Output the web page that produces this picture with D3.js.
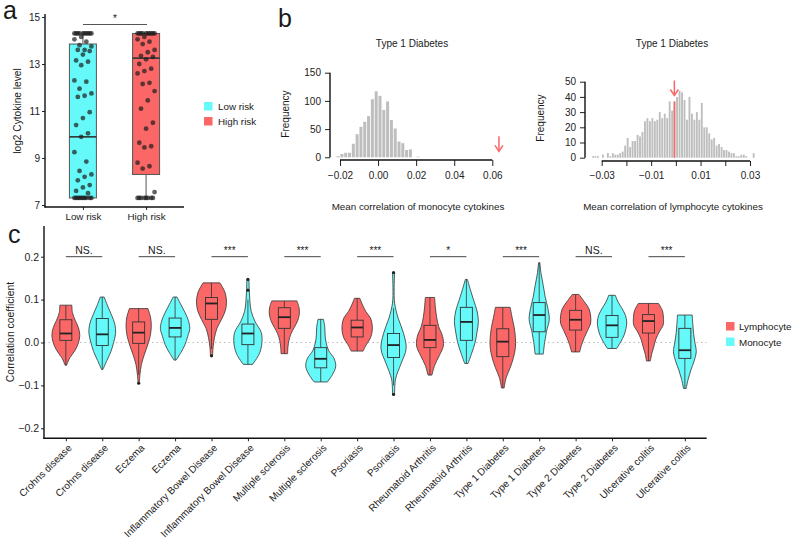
<!DOCTYPE html>
<html>
<head>
<meta charset="utf-8">
<script src="https://cdn.jsdelivr.net/npm/d3@7"></script>
<style>
  body { margin: 0; background: #fff; }
  text { font-family: "Liberation Sans", Arial, sans-serif; fill: #1a1a1a; }
</style>
</head>
<body>
<script>
// ---- panel a data ----
const riskGroups = ['Low risk', 'High risk'];
const lowRiskPoints = [14.3, 14.3, 14.3, 14.3, 14.3, 14.3, 14.3, 14.3, 14.3, 14.3,
  14.15, 14.05, 13.95, 13.8, 13.75, 13.6, 13.6, 13.55, 13.4, 13.15, 13.1, 12.95,
  12.3, 12.25, 11.95, 11.75, 11.65, 11.6, 10.95, 10.7, 10.4, 10.05, 9.9, 9.25,
  8.85, 8.45, 8.3, 8.2, 8.05, 7.85, 7.75, 7.6, 7.5,
  7.3, 7.3, 7.3, 7.3, 7.3, 7.3, 7.3, 7.3, 7.3, 7.3];
const highRiskPoints = [14.3, 14.3, 14.3, 14.3, 14.3, 14.3, 14.3, 14.3, 14.3, 14.3,
  14.15, 14.05, 13.95, 13.85, 13.6, 13.5, 13.35, 13.3, 13.2, 13.0, 12.8, 12.7,
  12.6, 12.2, 12.15, 11.85, 11.45, 11.1, 10.5, 10.25, 9.65, 9.5, 9.45, 8.8,
  8.65, 8.55, 7.55, 7.3, 7.3, 7.3, 7.3, 7.3, 7.3, 7.3, 7.3];
const riskMin = [7.3, 7.3];
const riskQ1 = [7.3, 8.3];
const riskMedian = [9.9, 13.25];
const riskQ3 = [13.85, 14.3];
const riskMax = [14.3, 14.3];

// ---- panel b data ----
const monoStart = -0.022, monoBin = 0.002;
const monoCounts = [2, 6, 8, 8, 24, 41, 54, 63, 73, 103, 117, 109, 84, 99, 66, 51, 28, 25, 13, 14, 0, 1];
const monoObserved = 0.0635;
const lymphStart = -0.034, lymphBin = 0.001;
const lymphCounts = [1, 1, 1, 0, 2, 0, 3, 1, 3, 2, 2, 3, 4, 8, 13, 7, 11, 11, 15, 14,
  17, 24, 26, 24, 26, 24, 25, 30, 26, 29, 26, 37, 31, 37, 40, 44, 43, 38, 25, 40,
  29, 25, 30, 25, 36, 20, 20, 16, 12, 13, 8, 9, 7, 5, 5, 4, 3, 3, 1, 1,
  2, 2, 1, 0, 0, 3];
const lymphObserved = -0.0006;
const lymphObservedCount = 37;

// ---- panel c data ----
const violinLabels = ['Crohns disease', 'Crohns disease', 'Eczema', 'Eczema',
  'Inflammatory Bowel Disease', 'Inflammatory Bowel Disease', 'Multiple sclerosis', 'Multiple sclerosis',
  'Psoriasis', 'Psoriasis', 'Rheumatoid Arthritis', 'Rheumatoid Arthritis',
  'Type 1 Diabetes', 'Type 1 Diabetes', 'Type 2 Diabetes', 'Type 2 Diabetes',
  'Ulcerative colitis', 'Ulcerative colitis'];
const cellTypes = ['Lymphocyte', 'Monocyte'];
const violinMin = [-0.053, -0.063, -0.095, -0.041, -0.031, -0.051, -0.026, -0.092, -0.020,
  -0.121, -0.076, -0.049, -0.106, -0.027, -0.022, -0.014, -0.043, -0.107];
const violinMax = [0.087, 0.106, 0.079, 0.106, 0.139, 0.147, 0.097, 0.054, 0.103,
  0.163, 0.105, 0.147, 0.082, 0.186, 0.112, 0.110, 0.091, 0.064];
const violinQ1 = [0.005, -0.007, -0.002, 0.013, 0.054, -0.005, 0.033, -0.059, 0.013,
  -0.035, -0.012, 0.005, -0.033, 0.025, 0.029, 0.012, 0.022, -0.037];
const violinMedian = [0.021, 0.019, 0.023, 0.034, 0.091, 0.021, 0.059, -0.038, 0.035,
  -0.006, 0.006, 0.048, 0.002, 0.064, 0.053, 0.040, 0.050, -0.018];
const violinQ3 = [0.053, 0.056, 0.048, 0.057, 0.105, 0.043, 0.081, -0.012, 0.052,
  0.021, 0.040, 0.082, 0.032, 0.093, 0.075, 0.063, 0.065, 0.033];
const whiskerLow = [-0.053, -0.063, -0.075, -0.041, -0.015, -0.051, -0.026, -0.092, -0.020,
  -0.100, -0.076, -0.049, -0.106, -0.027, -0.022, -0.014, -0.043, -0.107];
const whiskerHigh = [0.087, 0.106, 0.079, 0.106, 0.139, 0.100, 0.097, 0.054, 0.103,
  0.080, 0.105, 0.147, 0.082, 0.186, 0.112, 0.110, 0.091, 0.064];
const violinOutliers = [[], [], [-0.095], [], [-0.031], [0.147, 0.122], [], [], [],
  [0.163, -0.121], [], [], [], [], [], [], [], []];
// relative density, 9 levels from violin min (first) to violin max (last)
const violinDensity = [
  [0.05, 0.27, 0.62, 0.84, 0.93, 0.84, 0.62, 0.44, 0.40],
  [0.04, 0.31, 0.58, 0.76, 0.89, 0.84, 0.62, 0.36, 0.13],
  [0.04, 0.09, 0.18, 0.36, 0.58, 0.76, 0.84, 0.80, 0.62],
  [0.07, 0.40, 0.67, 0.84, 0.98, 0.89, 0.67, 0.40, 0.13],
  [0.07, 0.11, 0.20, 0.36, 0.67, 0.93, 1.00, 0.89, 0.56],
  [0.31, 0.76, 0.93, 0.89, 0.49, 0.22, 0.13, 0.09, 0.07],
  [0.22, 0.24, 0.31, 0.44, 0.67, 0.89, 1.00, 0.98, 0.84],
  [0.44, 0.80, 1.00, 0.89, 0.53, 0.36, 0.29, 0.27, 0.18],
  [0.40, 0.62, 0.89, 1.00, 1.00, 0.89, 0.58, 0.36, 0.18],
  [0.07, 0.13, 0.49, 0.84, 0.67, 0.31, 0.07, 0.04, 0.07],
  [0.13, 0.31, 0.62, 0.89, 0.84, 0.58, 0.44, 0.36, 0.31],
  [0.11, 0.36, 0.58, 0.71, 0.80, 0.71, 0.49, 0.27, 0.07],
  [0.09, 0.22, 0.49, 0.71, 0.84, 0.84, 0.76, 0.62, 0.49],
  [0.27, 0.36, 0.49, 0.67, 0.58, 0.40, 0.27, 0.13, 0.04],
  [0.27, 0.40, 0.58, 0.80, 1.00, 1.00, 0.89, 0.58, 0.22],
  [0.31, 0.58, 0.80, 0.93, 0.98, 0.89, 0.67, 0.40, 0.22],
  [0.13, 0.22, 0.36, 0.49, 0.71, 0.98, 1.00, 0.93, 0.67],
  [0.09, 0.22, 0.40, 0.62, 0.76, 0.67, 0.58, 0.53, 0.49]
];
const sigLabels = ['NS.', 'NS.', '***', '***', '***', '*', '***', 'NS.', '***'];

const red = '#fb6767';
const cyan = '#66f9f9';
const outline = '#333';

const svg = d3.select(document.body).append('svg')
  .attr('width', 800)
  .attr('height', 543);

function styleAxis(g, size) {
  g.attr('font-size', size);
  g.selectAll('.domain').remove();
  g.selectAll('line').attr('stroke', '#222');
  g.selectAll('text').style('fill', '#222');
}

function arrow(x, yTip) {
  svg.append('line')
    .attr('x1', x).attr('x2', x).attr('y1', yTip - 15).attr('y2', yTip)
    .attr('stroke', red).attr('stroke-width', 1.5);
  svg.append('path')
    .attr('d', `M${x - 4},${yTip - 6}L${x},${yTip}L${x + 4},${yTip - 6}`)
    .attr('fill', 'none').attr('stroke', red).attr('stroke-width', 1.5);
}

// panel letters
svg.append('text').attr('x', 3).attr('y', 19).attr('font-size', 25).text('a');
svg.append('text').attr('x', 278).attr('y', 27).attr('font-size', 25).text('b');
svg.append('text').attr('x', 8).attr('y', 243).attr('font-size', 25).text('c');

// ================= panel a =================
let xA = d3.scalePoint().domain(riskGroups).range([45, 184]).padding(0.6);
let yA = d3.scaleLinear().domain([7, 15]).range([205, 17]);

svg.append('g')
  .attr('transform', 'translate(45,0)')
  .call(d3.axisLeft(yA).tickValues([7, 9, 11, 13, 15]).tickSize(3).tickPadding(2))
  .call(g => styleAxis(g, 10));
svg.append('g')
  .attr('transform', 'translate(0,207)')
  .call(d3.axisBottom(xA).tickSize(3).tickPadding(3))
  .call(g => styleAxis(g, 9.8));
svg.append('line').attr('x1', 45).attr('x2', 45).attr('y1', 14).attr('y2', 207.5)
  .attr('stroke', '#111').attr('stroke-width', 1.4);
svg.append('line').attr('x1', 44.5).attr('x2', 184).attr('y1', 207).attr('y2', 207)
  .attr('stroke', '#111').attr('stroke-width', 1.4);

svg.append('text')
  .attr('transform', 'translate(21,111) rotate(-90)')
  .attr('text-anchor', 'middle').attr('font-size', 10.2)
  .text('log2 Cytokine level');

riskGroups.forEach((grp, i) => {
  let cx = xA(grp);
  let g = svg.append('g');
  g.append('line').attr('x1', cx).attr('x2', cx)
    .attr('y1', yA(riskMax[i])).attr('y2', yA(riskQ3[i]))
    .attr('stroke', '#555');
  g.append('line').attr('x1', cx).attr('x2', cx)
    .attr('y1', yA(riskQ1[i])).attr('y2', yA(riskMin[i]))
    .attr('stroke', '#555');
  g.append('rect')
    .attr('x', cx - 13.5).attr('width', 27)
    .attr('y', yA(riskQ3[i])).attr('height', yA(riskQ1[i]) - yA(riskQ3[i]))
    .attr('fill', i === 0 ? cyan : red)
    .attr('stroke', '#555').attr('stroke-width', 1);
  g.append('line').attr('x1', cx - 13.5).attr('x2', cx + 13.5)
    .attr('y1', yA(riskMedian[i])).attr('y2', yA(riskMedian[i]))
    .attr('stroke', '#333').attr('stroke-width', 1.6);

  let pts = i === 0 ? lowRiskPoints : highRiskPoints;
  g.selectAll('circle')
    .data(pts)
    .join('circle')
      .attr('cx', (d, j) => cx + (((j * 7) % 11) / 10 - 0.5) * 17)
      .attr('cy', d => yA(d))
      .attr('r', 2.4)
      .attr('fill', '#1e1e1e')
      .attr('fill-opacity', 0.7);
});

svg.append('line').attr('x1', 83).attr('x2', 147).attr('y1', 24.5).attr('y2', 24.5)
  .attr('stroke', '#555').attr('stroke-width', 1);
svg.append('text').attr('x', 115).attr('y', 22).attr('text-anchor', 'middle')
  .attr('font-size', 10).text('*');

// legend a
riskGroups.forEach((grp, i) => {
  svg.append('rect').attr('x', 204).attr('y', 102 + i * 15).attr('width', 8.5).attr('height', 8.5)
    .attr('fill', i === 0 ? cyan : red);
  svg.append('text').attr('x', 218).attr('y', 110 + i * 15).attr('font-size', 9.8).text(grp);
});

// ================= panel b (left) =================
let xL = d3.scaleLinear().domain([-0.02, 0.06]).range([340, 492.3]);
let yL = d3.scaleLinear().domain([0, 150]).range([157.3, 72.7]);

svg.append('g').selectAll('rect')
  .data(monoCounts)
  .join('rect')
    .attr('x', (d, i) => xL(monoStart + i * monoBin) + 0.4)
    .attr('width', xL(monoBin) - xL(0) - 0.8)
    .attr('y', d => yL(d))
    .attr('height', d => yL(0) - yL(d))
    .attr('fill', '#bebebe');

svg.append('g')
  .attr('transform', 'translate(0,160)')
  .call(d3.axisBottom(xL).tickValues([-0.02, 0, 0.02, 0.04, 0.06]).tickFormat(d3.format('.2f'))
    .tickSize(6).tickPadding(6))
  .call(g => styleAxis(g, 10));
svg.append('line').attr('x1', xL(-0.02)).attr('x2', xL(0.06)).attr('y1', 160).attr('y2', 160)
  .attr('stroke', '#111').attr('stroke-width', 1.4);

svg.append('g')
  .attr('transform', 'translate(330,0)')
  .call(d3.axisLeft(yL).tickValues([0, 50, 100, 150]).tickSize(5).tickPadding(4))
  .call(g => styleAxis(g, 10));
svg.append('line').attr('x1', 330).attr('x2', 330).attr('y1', yL(0)).attr('y2', yL(150))
  .attr('stroke', '#111').attr('stroke-width', 1.4);

svg.append('text').attr('x', 412).attr('y', 47).attr('text-anchor', 'middle')
  .attr('font-size', 10).text('Type 1 Diabetes');
svg.append('text').attr('transform', 'translate(289,114) rotate(-90)')
  .attr('text-anchor', 'middle').attr('font-size', 10).text('Frequency');
svg.append('text').attr('x', 418).attr('y', 210).attr('text-anchor', 'middle')
  .attr('font-size', 9.8).text('Mean correlation of monocyte cytokines');
arrow(xL(monoObserved), yL(0) - 6);

// ================= panel b (right) =================
let xR = d3.scaleLinear().domain([-0.03, 0.03]).range([601.7, 750]);
let yR = d3.scaleLinear().domain([0, 50]).range([157.7, 81.7]);

svg.append('g').selectAll('rect')
  .data(lymphCounts)
  .join('rect')
    .attr('x', (d, i) => xR(lymphStart + i * lymphBin) + 0.3)
    .attr('width', xR(lymphBin) - xR(0) - 0.6)
    .attr('y', d => yR(d))
    .attr('height', d => yR(0) - yR(d))
    .attr('fill', '#bebebe');

let rTicks = [-0.03, -0.02, -0.01, 0, 0.01, 0.02, 0.03];
svg.append('g')
  .attr('transform', 'translate(0,161)')
  .call(d3.axisBottom(xR).tickValues(rTicks)
    .tickFormat((d, i) => i % 2 === 0 ? d3.format('.2f')(d) : '')
    .tickSize(5).tickPadding(6))
  .call(g => styleAxis(g, 10));
svg.append('line').attr('x1', xR(-0.03)).attr('x2', xR(0.03)).attr('y1', 161).attr('y2', 161)
  .attr('stroke', '#111').attr('stroke-width', 1.4);

svg.append('g')
  .attr('transform', 'translate(585,0)')
  .call(d3.axisLeft(yR).tickValues([0, 10, 20, 30, 40, 50]).tickSize(5).tickPadding(4))
  .call(g => styleAxis(g, 10));
svg.append('line').attr('x1', 585).attr('x2', 585).attr('y1', yR(0)).attr('y2', yR(50))
  .attr('stroke', '#111').attr('stroke-width', 1.4);

svg.append('line')
  .attr('x1', xR(lymphObserved)).attr('x2', xR(lymphObserved))
  .attr('y1', yR(0)).attr('y2', yR(lymphObservedCount))
  .attr('stroke', red).attr('stroke-width', 1.6);
arrow(xR(lymphObserved), yR(lymphObservedCount) - 6);

svg.append('text').attr('x', 672).attr('y', 47).attr('text-anchor', 'middle')
  .attr('font-size', 10).text('Type 1 Diabetes');
svg.append('text').attr('transform', 'translate(544,118) rotate(-90)')
  .attr('text-anchor', 'middle').attr('font-size', 10).text('Frequency');
svg.append('text').attr('x', 673).attr('y', 210).attr('text-anchor', 'middle')
  .attr('font-size', 9.8).text('Mean correlation of lymphocyte cytokines');

// ================= panel c =================
let xC = d3.scalePoint().domain(d3.range(violinLabels.length)).range([44, 706.7]).padding(0.6);
let yC = d3.scaleLinear().domain([-0.2, 0.2]).range([428.3, 256.7]);
let wC = d3.scaleLinear().domain([0, 1]).range([0, 15]);

svg.append('line').attr('x1', 44).attr('x2', 706.7).attr('y1', yC(0)).attr('y2', yC(0))
  .attr('stroke', '#bbb').attr('stroke-width', 1).attr('stroke-dasharray', '1.5,3');

svg.append('g')
  .attr('transform', 'translate(44,0)')
  .call(d3.axisLeft(yC).tickValues([-0.2, -0.1, 0, 0.1, 0.2]).tickFormat(d3.format('.1f'))
    .tickSize(3).tickPadding(2))
  .call(g => styleAxis(g, 10.5));
svg.append('g')
  .attr('transform', 'translate(0,438.3)')
  .call(d3.axisBottom(xC).tickSize(3).tickFormat(''))
  .call(g => styleAxis(g, 10));
svg.append('line').attr('x1', 44).attr('x2', 44).attr('y1', 226).attr('y2', 439)
  .attr('stroke', '#111').attr('stroke-width', 1.4);
svg.append('line').attr('x1', 43.3).attr('x2', 706.7).attr('y1', 438.3).attr('y2', 438.3)
  .attr('stroke', '#111').attr('stroke-width', 1.4);

svg.append('g').selectAll('text')
  .data(violinLabels)
  .join('text')
    .attr('transform', (d, i) => `translate(${xC(i) + 4},446) rotate(-45)`)
    .attr('text-anchor', 'end')
    .attr('dy', '0.35em')
    .attr('font-size', 10)
    .style('fill', '#222')
    .text(d => d);

svg.append('text')
  .attr('transform', 'translate(14,332) rotate(-90)')
  .attr('text-anchor', 'middle').attr('font-size', 10.4)
  .text('Correlation coefficient');

violinLabels.forEach((lab, i) => {
  let cx = xC(i);
  let fill = i % 2 === 0 ? red : cyan;
  let levels = violinDensity[i].map((w, k) => ({
    v: violinMin[i] + (violinMax[i] - violinMin[i]) * k / (violinDensity[i].length - 1),
    w: w
  }));
  let area = d3.area()
    .curve(d3.curveCatmullRom)
    .y(d => yC(d.v))
    .x0(d => cx - wC(d.w))
    .x1(d => cx + wC(d.w));
  let g = svg.append('g');
  g.append('path')
    .attr('d', area(levels))
    .attr('fill', fill)
    .attr('stroke', outline).attr('stroke-width', 0.8);
  g.append('line').attr('x1', cx).attr('x2', cx)
    .attr('y1', yC(whiskerHigh[i])).attr('y2', yC(violinQ3[i]))
    .attr('stroke', outline).attr('stroke-width', 0.8);
  g.append('line').attr('x1', cx).attr('x2', cx)
    .attr('y1', yC(violinQ1[i])).attr('y2', yC(whiskerLow[i]))
    .attr('stroke', outline).attr('stroke-width', 0.8);
  g.append('rect')
    .attr('x', cx - 6).attr('width', 12)
    .attr('y', yC(violinQ3[i])).attr('height', yC(violinQ1[i]) - yC(violinQ3[i]))
    .attr('fill', fill)
    .attr('stroke', outline).attr('stroke-width', 0.9);
  g.append('line').attr('x1', cx - 6).attr('x2', cx + 6)
    .attr('y1', yC(violinMedian[i])).attr('y2', yC(violinMedian[i]))
    .attr('stroke', '#222').attr('stroke-width', 1.8);
  g.selectAll('circle')
    .data(violinOutliers[i])
    .join('circle')
      .attr('cx', cx).attr('cy', d => yC(d)).attr('r', 1.6)
      .attr('fill', '#222');
});

sigLabels.forEach((s, k) => {
  let x1 = xC(2 * k), x2 = xC(2 * k + 1);
  svg.append('line').attr('x1', x1).attr('x2', x2).attr('y1', yC(0.2)).attr('y2', yC(0.2))
    .attr('stroke', '#444').attr('stroke-width', 1);
  svg.append('text').attr('x', (x1 + x2) / 2).attr('y', yC(0.2) - 3)
    .attr('text-anchor', 'middle')
    .attr('font-size', s === 'NS.' ? 10.5 : 10)
    .text(s);
});

// legend c
cellTypes.forEach((ct, i) => {
  svg.append('rect').attr('x', 726).attr('y', 322 + i * 15.5).attr('width', 8.5).attr('height', 8.5)
    .attr('fill', i === 0 ? red : cyan);
  svg.append('text').attr('x', 739).attr('y', 330 + i * 15.5).attr('font-size', 9.8).text(ct);
});
</script>
</body>
</html>
